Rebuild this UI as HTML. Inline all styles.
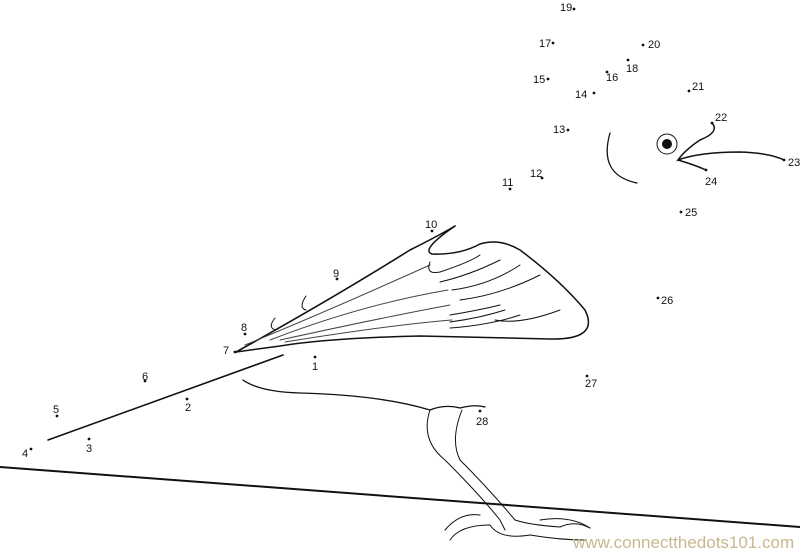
<!DOCTYPE html>
<html><head><style>
html,body{margin:0;padding:0;background:#fff;}
svg{display:block;}
text{font-family:"Liberation Sans",sans-serif;font-size:11px;fill:#111;}
</style></head><body>
<svg width="800" height="551" viewBox="0 0 800 551" xmlns="http://www.w3.org/2000/svg">
<g fill="none" stroke="#111" stroke-linecap="round">
<path d="M0 467 L800 527" stroke-width="2"/>
<path d="M48 440 L283 355" stroke-width="1.6"/>
<path d="M236 352 Q330 300 410 250 Q440 235 455 226" stroke-width="1.6"/>
<path d="M455 226 Q420 250 432 254 Q460 255 480 244 Q500 238 520 250 Q560 280 585 310 Q600 340 550 339 Q470 337 420 336 Q330 338 280 346 Q250 350 236 352" stroke-width="1.5"/>
<path d="M306 296 Q298 308 306 310 M275 318 Q267 328 276 330" stroke-width="1"/>
<path d="M245 345 Q330 310 430 265 M270 340 Q360 305 448 290 M280 340 Q380 318 450 305 M285 342 Q390 325 452 320" stroke-width="1" stroke="#444"/>
<path d="M430 262 Q425 275 440 272 Q470 262 480 255 M440 282 Q470 275 500 260 M452 290 Q490 285 520 265 M460 300 Q500 295 540 275 M450 315 Q480 310 500 305 M450 322 Q480 318 505 310 M450 328 Q490 325 520 315 M495 320 Q520 325 560 310" stroke-width="1"/>
<path d="M243 380 Q260 392 300 393 Q380 395 430 410 Q445 404 460 408 Q475 404 485 407" stroke-width="1.3"/>
<path d="M430 410 Q420 440 445 460 Q480 495 500 520 L505 530 M462 410 Q450 440 460 460 Q490 490 515 520 Q530 525 560 527 Q575 520 590 528" stroke-width="1"/>
<path d="M445 530 Q460 512 480 515 M450 540 Q460 525 490 525 Q500 540 530 535 Q560 540 585 540 M540 520 Q570 515 590 528" stroke-width="1"/>
<path d="M610 133 Q598 175 637 183" stroke-width="1.3"/>
<path d="M712 123 Q720 132 700 140 Q685 150 678 160 Q700 152 740 152 Q770 153 784 160 M678 160 Q695 165 706 170" stroke-width="1.5"/>
<circle cx="667" cy="144" r="10" stroke-width="1"/>
</g>
<circle cx="667" cy="144" r="5" fill="#111"/>
<g fill="#111">
<circle cx="574" cy="9" r="1.4"/><circle cx="553" cy="43" r="1.4"/><circle cx="643" cy="45" r="1.4"/>
<circle cx="628" cy="60" r="1.4"/><circle cx="607" cy="72" r="1.4"/><circle cx="548" cy="79" r="1.4"/>
<circle cx="689" cy="91" r="1.4"/><circle cx="594" cy="93" r="1.4"/><circle cx="712" cy="123" r="1.4"/>
<circle cx="568" cy="130" r="1.4"/><circle cx="784" cy="160" r="1.4"/><circle cx="706" cy="170" r="1.4"/>
<circle cx="542" cy="178" r="1.4"/><circle cx="510" cy="189" r="1.4"/><circle cx="681" cy="212" r="1.4"/>
<circle cx="432" cy="231" r="1.4"/><circle cx="337" cy="279" r="1.4"/><circle cx="658" cy="298" r="1.4"/>
<circle cx="245" cy="334" r="1.4"/><circle cx="235" cy="352" r="1.4"/><circle cx="315" cy="357" r="1.4"/>
<circle cx="145" cy="381" r="1.4"/><circle cx="587" cy="376" r="1.4"/><circle cx="57" cy="416" r="1.4"/>
<circle cx="187" cy="399" r="1.4"/><circle cx="480" cy="411" r="1.4"/><circle cx="89" cy="439" r="1.4"/>
<circle cx="31" cy="449" r="1.4"/>
</g>
<text x="560" y="11">19</text><text x="539" y="47">17</text><text x="648" y="48">20</text>
<text x="626" y="72">18</text><text x="606" y="81">16</text><text x="533" y="83">15</text>
<text x="692" y="90">21</text><text x="575" y="98">14</text><text x="715" y="121">22</text>
<text x="553" y="133">13</text><text x="788" y="166">23</text><text x="705" y="185">24</text>
<text x="530" y="177">12</text><text x="502" y="186">11</text><text x="685" y="216">25</text>
<text x="425" y="228">10</text><text x="333" y="277">9</text><text x="661" y="304">26</text>
<text x="241" y="331">8</text><text x="223" y="354">7</text><text x="312" y="370">1</text>
<text x="142" y="380">6</text><text x="585" y="387">27</text><text x="53" y="413">5</text>
<text x="185" y="411">2</text><text x="476" y="425">28</text><text x="86" y="452">3</text>
<text x="22" y="457">4</text>
<text x="573" y="548" style="font-size:17px;fill:#c8b890">www.connectthedots101.com</text>
</svg>
</body></html>
